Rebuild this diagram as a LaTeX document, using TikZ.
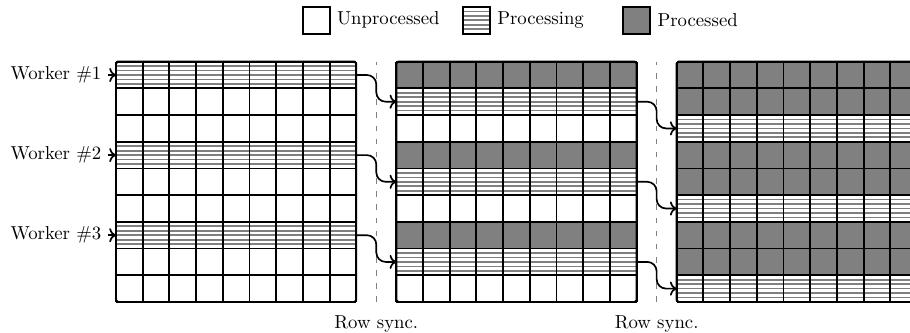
\documentclass[tikz,border=0pt]{standalone}
\usepackage{tikz}
\usetikzlibrary{arrows.meta,positioning}

\tikzset{
  cellgrid/.style={black,line width=1pt},
  busyline/.style={gray,line width=0.9pt},
  flow/.style={->,line width=0.9pt,rounded corners=5pt},
  syncline/.style={gray,thin,dash pattern=on 3pt off 4pt},
  legbox/.style={draw,line width=1pt,minimum size=0.5cm,inner sep=0pt},
}
% rows of a 9x9 table, counted from the top
\newcommand{\busyrow}[2]{%
  \foreach \k in {1,...,5}
    \draw[busyline] (#1,9-#2+\k/6) -- ++(9,0);
}
\newcommand{\donerow}[2]{%
  \fill[gray] (#1,9-#2) rectangle ++(9,1);
}
\newcommand{\drawtable}[1]{%
  \draw[cellgrid,step=0.5cm,shift={(#1,0)}] (0,0) grid (9,9);
  \draw[cellgrid,rounded corners=1pt] (#1,0) rectangle ++(9,9);
}

\begin{document}
\begin{tikzpicture}[x=0.5cm,y=0.5cm,>=To]
  \useasboundingbox (-4.345,-1.16) rectangle (29.74,11.31);
  % Legend
  \node[legbox] (kfree) at (7.5,10.55) {};
  \node[right=0pt of kfree] (tfree) {Unprocessed};
  \foreach \k in {1,...,5}
    \draw[busyline] (13,10.05+\k/6) -- ++(1,0);
  \node[legbox] (kbusy) at (13.5,10.55) {};
  \node[right=0pt of kbusy] (tbusy) {Processing};
  \node[legbox,fill=gray] (kdone) at (19.5,10.55) {};
  \node[right=0pt of kdone] (tdone) {Processed};
  % Step 1: each worker starts on its own row
  \foreach \r in {1,4,7}{\busyrow{0}{\r}}
  \drawtable{0}
  % Step 2
  \foreach \r in {1,4,7}{\donerow{10.5}{\r}}
  \foreach \r in {2,5,8}{\busyrow{10.5}{\r}}
  \drawtable{10.5}
  % Step 3 (cut by the right edge)
  \foreach \r in {1,2,4,5,7,8}{\donerow{21}{\r}}
  \foreach \r in {3,6,9}{\busyrow{21}{\r}}
  \drawtable{21}
  % Row ends of the tables
  \foreach \r in {1,...,9}{
    \coordinate (in1r\r)  at (0,9.5-\r);
    \coordinate (out1r\r) at (9,9.5-\r);
    \coordinate (in2r\r)  at (10.5,9.5-\r);
    \coordinate (out2r\r) at (19.5,9.5-\r);
    \coordinate (in3r\r)  at (21,9.5-\r);
  }
  % Workers
  \foreach \n/\r in {1/1,2/4,3/7}{
    \node[anchor=east] (w\n) at (-0.3,9.5-\r) {Worker \#\n};
    \draw[->,line width=0.9pt] (w\n) -- (in1r\r);
  }
  % Row synchronisation between steps
  \draw[syncline] (9.75,0) -- (9.75,9);
  \draw[syncline] (20.25,0) -- (20.25,9);
  \node (sync1) at (9.75,-0.82) {Row sync.};
  \node (sync2) at (20.25,-0.82) {Row sync.};
  \foreach \r/\s in {1/2,4/5,7/8}
    \draw[flow] (out1r\r) -- ++(0.75,0) |- (in2r\s);
  \foreach \r/\s in {2/3,5/6,8/9}
    \draw[flow] (out2r\r) -- ++(0.75,0) |- (in3r\s);
\end{tikzpicture}
\end{document}
